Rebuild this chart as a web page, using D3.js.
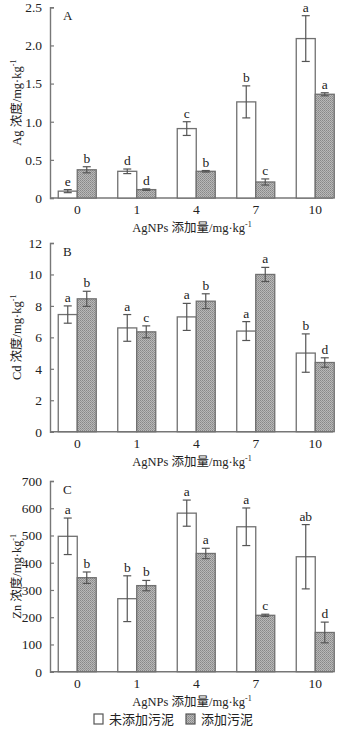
<!DOCTYPE html>
<html>
<head>
<meta charset="utf-8">
<script src="https://cdn.jsdelivr.net/npm/d3@7"></script>
<style>
  body { margin: 0; background: #fff; }
  svg text { font-family: "Liberation Serif", "Noto Sans CJK SC", serif; fill: #222; }
</style>
</head>
<body>
<svg id="chart" width="350" height="731"></svg>
<script>
// Data ////////////////////////////////////////////////////////////////////
const doses = ['0', '1', '4', '7', '10'];

// Ag (panel A)
const agNoSludge     = [0.09, 0.35, 0.91, 1.26, 2.09];
const agNoSludgeErr  = [0.02, 0.03, 0.09, 0.21, 0.30];
const agSludge       = [0.37, 0.11, 0.35, 0.21, 1.36];
const agSludgeErr    = [0.04, 0.01, 0.01, 0.04, 0.02];
const agNoSludgeSig  = ['e', 'd', 'c', 'b', 'a'];
const agSludgeSig    = ['b', 'd', 'b', 'c', 'a'];
const agTicks        = [0, 0.5, 1.0, 1.5, 2.0, 2.5];

// Cd (panel B)
const cdNoSludge     = [7.45, 6.6, 7.3, 6.4, 5.0];
const cdNoSludgeErr  = [0.55, 0.85, 0.86, 0.6, 1.22];
const cdSludge       = [8.45, 6.35, 8.3, 10.0, 4.4];
const cdSludgeErr    = [0.48, 0.38, 0.47, 0.45, 0.3];
const cdNoSludgeSig  = ['a', 'a', 'a', 'a', 'b'];
const cdSludgeSig    = ['b', 'c', 'b', 'a', 'd'];
const cdTicks        = [0, 2, 4, 6, 8, 10, 12];

// Zn (panel C)
const znNoSludge     = [497, 268, 582, 532, 422];
const znNoSludgeErr  = [67, 84, 48, 69, 118];
const znSludge       = [345, 316, 434, 207, 144];
const znSludgeErr    = [21, 19, 19, 4, 38];
const znNoSludgeSig  = ['a', 'b', 'a', 'a', 'ab'];
const znSludgeSig    = ['b', 'b', 'a', 'c', 'd'];
const znTicks        = [0, 100, 200, 300, 400, 500, 600, 700];

const legendLabels = ['未添加污泥', '添加污泥'];

// Layout //////////////////////////////////////////////////////////////////
const svg = d3.select('#chart');
const axisLeft = 50, axisRight = 333;
const barW = 19;

const x = d3.scaleBand()
  .domain(doses)
  .range([47.5, 345])
  .padding(0);

// hatched fill for the sludge bars
const pat = svg.append('defs').append('pattern')
  .attr('id', 'hatch')
  .attr('width', 2).attr('height', 2)
  .attr('patternUnits', 'userSpaceOnUse');
pat.append('rect').attr('width', 2).attr('height', 2).attr('fill', '#b8b8b8');
pat.append('rect').attr('width', 1).attr('height', 1).attr('fill', '#888');
pat.append('rect').attr('x', 1).attr('y', 1).attr('width', 1).attr('height', 1).attr('fill', '#969696');

function drawPanel(opts) {
  const y = d3.scaleLinear()
    .domain([0, opts.max])
    .range([opts.bottom, opts.top]);

  const g = svg.append('g');

  // y axis with inward ticks
  const yAxis = g.append('g')
    .attr('transform', `translate(${axisLeft},0)`)
    .call(d3.axisLeft(y).tickValues(opts.ticks).tickSize(-4).tickPadding(8)
      .tickFormat(opts.fmt));
  yAxis.select('.domain').attr('stroke', '#777').attr('stroke-width', 1.4);
  yAxis.selectAll('.tick line').attr('stroke', '#777').attr('stroke-width', 1.2);
  yAxis.selectAll('.tick text')
    .attr('font-size', 13.5).attr('fill', '#222')
    .style('font-family', '"Liberation Serif", serif');

  // x axis line only
  g.append('line')
    .attr('x1', axisLeft).attr('x2', axisRight)
    .attr('y1', y(0)).attr('y2', y(0))
    .attr('stroke', '#777').attr('stroke-width', 1.4);

  // x tick labels
  g.selectAll('.xlab')
    .data(doses)
    .enter().append('text')
    .attr('x', d => x(d) + x.bandwidth() / 2)
    .attr('y', y(0) + 16)
    .attr('text-anchor', 'middle')
    .attr('font-size', 13.5)
    .text(d => d);

  const cx = d => x(d) + x.bandwidth() / 2;

  const series = [
    {vals: opts.a, err: opts.aErr, sig: opts.aSig, off: -barW, fill: '#fff'},
    {vals: opts.b, err: opts.bErr, sig: opts.bSig, off: 0, fill: 'url(#hatch)'}
  ];

  series.forEach(s => {
    const rows = doses.map((d, i) => ({d: d, v: s.vals[i], e: s.err[i], l: s.sig[i]}));

    g.selectAll(null)
      .data(rows)
      .enter().append('rect')
      .attr('x', r => cx(r.d) + s.off)
      .attr('y', r => y(r.v))
      .attr('width', barW)
      .attr('height', r => y(0) - y(r.v))
      .attr('fill', s.fill)
      .attr('stroke', '#707070')
      .attr('stroke-width', 1.3);

    // error bars
    const eb = g.selectAll(null)
      .data(rows)
      .enter().append('g')
      .attr('stroke', '#555')
      .attr('stroke-width', 1.2);
    eb.append('line')
      .attr('x1', r => cx(r.d) + s.off + barW / 2)
      .attr('x2', r => cx(r.d) + s.off + barW / 2)
      .attr('y1', r => y(r.v + r.e))
      .attr('y2', r => y(Math.max(0, r.v - r.e)));
    [1, -1].forEach(k => {
      eb.append('line')
        .attr('x1', r => cx(r.d) + s.off + barW / 2 - 4)
        .attr('x2', r => cx(r.d) + s.off + barW / 2 + 4)
        .attr('y1', r => y(Math.max(0, r.v + k * r.e)))
        .attr('y2', r => y(Math.max(0, r.v + k * r.e)));
    });

    // significance letters
    g.selectAll(null)
      .data(rows)
      .enter().append('text')
      .attr('x', r => cx(r.d) + s.off + barW / 2)
      .attr('y', r => y(r.v + r.e) - 4)
      .attr('text-anchor', 'middle')
      .attr('font-size', 13.5)
      .text(r => r.l);
  });

  // panel letter
  g.append('text')
    .attr('x', 63).attr('y', opts.top + 13)
    .attr('font-size', 13)
    .text(opts.letter);

  // y axis title
  const yt = g.append('text')
    .attr('transform', `translate(21,${(opts.top + opts.bottom) / 2}) rotate(-90)`)
    .attr('text-anchor', 'middle')
    .attr('font-size', 12.5);
  yt.append('tspan').text(opts.elem + ' 浓度/mg·kg');
  yt.append('tspan').attr('font-size', 8).attr('dy', -5).text('-1');

  // x axis title
  const xt = g.append('text')
    .attr('x', 192).attr('y', opts.bottom + 34)
    .attr('text-anchor', 'middle')
    .attr('font-size', 12.5);
  xt.append('tspan').text('AgNPs 添加量/mg·kg');
  xt.append('tspan').attr('font-size', 8).attr('dy', -5).text('-1');
}

drawPanel({letter: 'A', elem: 'Ag', top: 7.3, bottom: 198, max: 2.5, ticks: agTicks,
  fmt: d => d === 0 ? '0' : d3.format('.1f')(d),
  a: agNoSludge, aErr: agNoSludgeErr, aSig: agNoSludgeSig,
  b: agSludge, bErr: agSludgeErr, bSig: agSludgeSig});

drawPanel({letter: 'B', elem: 'Cd', top: 243, bottom: 431.7, max: 12, ticks: cdTicks,
  fmt: d3.format('d'),
  a: cdNoSludge, aErr: cdNoSludgeErr, aSig: cdNoSludgeSig,
  b: cdSludge, bErr: cdSludgeErr, bSig: cdSludgeSig});

drawPanel({letter: 'C', elem: 'Zn', top: 481, bottom: 671.7, max: 700, ticks: znTicks,
  fmt: d3.format('d'),
  a: znNoSludge, aErr: znNoSludgeErr, aSig: znNoSludgeSig,
  b: znSludge, bErr: znSludgeErr, bSig: znSludgeSig});

// Legend //////////////////////////////////////////////////////////////////
const legend = svg.append('g').attr('transform', 'translate(0,724)');
const legendX = [94, 186];
legend.selectAll('rect')
  .data(legendLabels)
  .enter().append('rect')
  .attr('x', (d, i) => legendX[i])
  .attr('y', -10)
  .attr('width', 9).attr('height', 10)
  .attr('fill', (d, i) => i === 0 ? '#fff' : 'url(#hatch)')
  .attr('stroke', '#555')
  .attr('stroke-width', 1.2);
legend.selectAll('text')
  .data(legendLabels)
  .enter().append('text')
  .attr('x', (d, i) => legendX[i] + 15)
  .attr('y', 0)
  .attr('font-size', 13)
  .text(d => d);
</script>
</body>
</html>
